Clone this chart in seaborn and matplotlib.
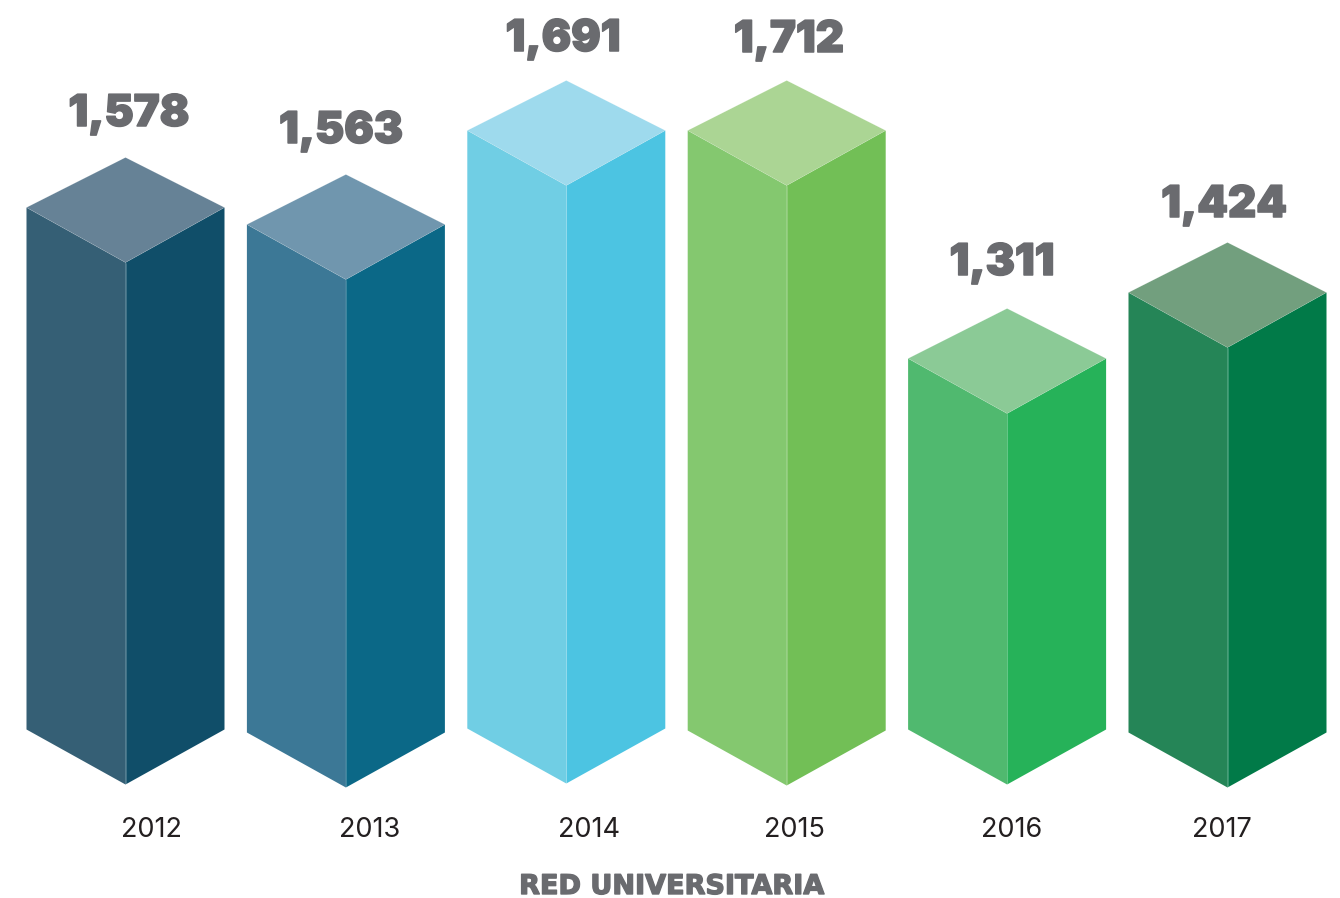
import numpy as np
import pandas as pd
import matplotlib
matplotlib.use("Agg")
import matplotlib.pyplot as plt
import matplotlib.patheffects as pe
import seaborn as sns
from matplotlib.patches import Polygon
from matplotlib.transforms import Affine2D

years = ["2012", "2013", "2014", "2015", "2016", "2017"]
value_labels = ["1,578", "1,563", "1,691", "1,712", "1,311", "1,424"]
# drawn heights, the bars don't start from zero in the original
bar_heights = [522, 508, 598, 600, 371, 440]
bar_base = [1, -2, 2, 0, 1, -2]
left_colors = ["#355F75", "#3C7896", "#70CEE4", "#84C86F", "#50B96F", "#258557"]
right_colors = ["#104E69", "#0B6887", "#4CC4E2", "#72BF56", "#26B259", "#017A48"]
top_colors = ["#668296", "#7096AE", "#9EDAED", "#ABD594", "#8BCA96", "#729F7E"]
year_label_px = [151, 370, 589, 794, 1012, 1222]
value_label_px = [129, 341, 563, 789, 1002, 1224]
value_baseline_px = [126, 143, 51, 52, 275, 217]

W, H = 1340, 898
BAR_PX = 220.4
FIRST_PX = 125.5
BASE_PX = 785.5
HALF_W = 99
SLOPE = 55 / 99
TOP_DEPTH = 105

df = pd.DataFrame({
    "year": years * 2,
    "face": ["left"] * 6 + ["right"] * 6,
    "height": bar_heights * 2,
})

sns.set_theme(style="white")
plt.rcParams["font.family"] = ["Inter", "DejaVu Sans"]

fig = plt.figure(figsize=(W / 100, H / 100), dpi=100)
ax = fig.add_axes([0, 0, 1, 1])
sns.barplot(data=df, x="year", y="height", hue="face", order=years,
            hue_order=["left", "right"], width=198 / BAR_PX, gap=0,
            legend=False, ax=ax, errorbar=None)

ax.set_xlim(-FIRST_PX / BAR_PX, (W - FIRST_PX) / BAR_PX)
ax.set_ylim(BASE_PX - H, BASE_PX)
ax.axis("off")

GREY = "#6A6B6F"
# shear the flat bars so they look like two sides of a box
k = SLOPE * BAR_PX
bars = [p for p in ax.patches if p.get_width() > 0]
for i, year in enumerate(years):
    left, right = bars[i], bars[i + 6]
    left.set_y(bar_base[i])
    right.set_y(bar_base[i])
    left.set_facecolor(left_colors[i])
    right.set_facecolor(right_colors[i])
    for bar, sign in ((left, -1), (right, 1)):
        bar.set_edgecolor("none")
        bar.set_transform(Affine2D(np.array([[1, 0, 0], [sign * k, 1, -sign * k * i], [0, 0, 1]])) + ax.transData)

    top = bar_base[i] + bar_heights[i]
    dx = HALF_W / BAR_PX
    ax.add_patch(Polygon([(i, top), (i - dx, top + SLOPE * HALF_W), (i, top + TOP_DEPTH),
                          (i + dx, top + SLOPE * HALF_W)], closed=True, facecolor=top_colors[i],
                         edgecolor=(1, 1, 1, 0.15), lw=0.5))
    ax.plot([i, i], [bar_base[i], top], color="white", lw=0.5, alpha=0.3)

    ax.text((value_label_px[i] - FIRST_PX) / BAR_PX, BASE_PX - value_baseline_px[i], value_labels[i], ha="center",
            va="baseline", fontsize=31.5, fontweight="black", color=GREY,
            path_effects=[pe.withStroke(linewidth=1.1, foreground=GREY)])
    ax.text((year_label_px[i] - FIRST_PX) / BAR_PX, BASE_PX - 837, year, ha="center", va="baseline",
            fontsize=19.5, color="#231F20")

ax.text((672 - FIRST_PX) / BAR_PX, BASE_PX - 894, "RED UNIVERSITARIA", ha="center", va="baseline",
        fontsize=19.5, fontweight="bold", color=GREY, family=["DejaVu Sans"],
        path_effects=[pe.withStroke(linewidth=1.0, foreground=GREY)])

fig.savefig("out.png", dpi=100, facecolor="white")
plt.close()
